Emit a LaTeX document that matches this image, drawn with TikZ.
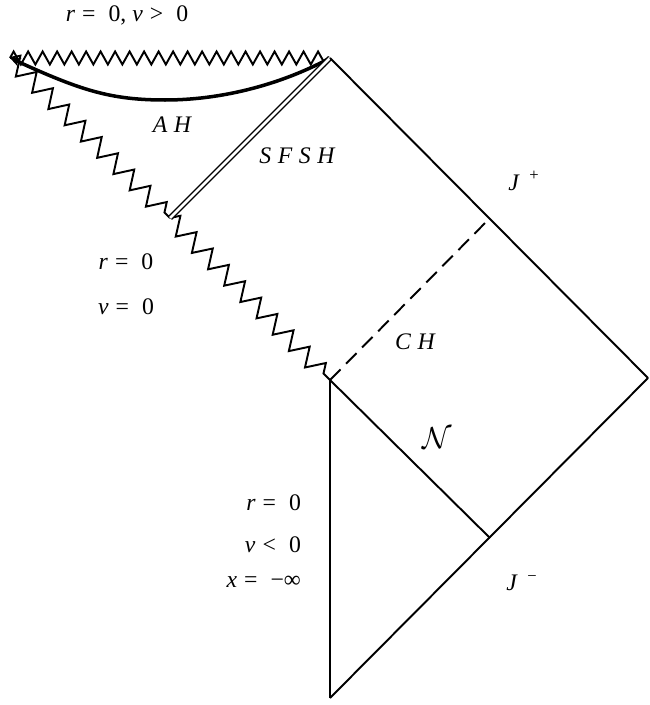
\documentclass[tikz,border=0pt]{standalone}
\usepackage{fontspec}
\setmainfont{Liberation Serif}
\usetikzlibrary{decorations.pathmorphing,arrows.meta}
\newcommand\lsp{\hspace{0.28em}}
\newcommand\rel[1]{\hspace{0.3em}{\upshape#1}\hspace{0.55em}}
\tikzset{
  edge/.style={line width=1.1pt},
  singtop/.style={edge,decorate,decoration={zigzag,segment length=0.29cm,amplitude=0.13cm}},
  singdiag/.style={edge,decorate,decoration={zigzag,segment length=0.46cm,amplitude=0.18cm}},
  horizon/.style={line width=2pt},
  shell/.style={double,double distance=1.5pt,line width=0.8pt},
  cauchy/.style={edge,dash pattern=on 8.5pt off 4.5pt},
  lbl/.style={font=\fontsize{13.5}{16}\selectfont\itshape,inner sep=1pt}
}
\begin{document}
\begin{tikzpicture}[x=0.02cm,y=-0.02cm]
    \useasboundingbox (0,0) rectangle (649,705);
    \coordinate (TL) at (10,58);
    \coordinate (TR) at (330,58);
    \coordinate (R) at (648,378);
    \coordinate (B) at (330,698);
    \coordinate (M) at (330,380);
    \coordinate (SF) at (170,218);
    \coordinate (CHtop) at (490,218);
    \coordinate (Nj) at (490,538);
    \draw[singtop] (TL) to (TR);
    \draw[singdiag] (TL) to (SF);
    \draw[singdiag] (SF) to (M);
    \draw[horizon,{Stealth[length=6pt,width=5pt]}-] (TL) .. controls (80,90) and (110,100) .. (165,100)
        .. controls (230,100) and (290,80) .. (TR);
    \draw[shell] (TR) to (SF);
    \draw[edge] (TR) to (R);
    \draw[edge] (R) to (B);
    \draw[edge] (B) to (M);
    \draw[edge] (M) to (Nj);
    \draw[cauchy] (M) to (CHtop);
    \node[lbl] (rv) at (127,15) {r\rel{=}\upshape 0, \itshape v\rel{>}\upshape 0};
    \node[lbl] (AH) at (172,125) {A\lsp H};
    \node[lbl] (SFSH) at (297,156) {S\lsp F\lsp S\lsp H};
    \node[lbl] (Jp) at (524,181) {J\,\lsp\textsuperscript{\upshape +}};
    \node[lbl] (r0) at (126,262) {r\rel{=}\upshape 0};
    \node[lbl] (v0) at (126,307) {v\rel{=}\upshape 0};
    \node[lbl] (CH) at (415,342) {C\lsp H};
    \node[lbl,font=\fontsize{17}{18}\selectfont] (N) at (437,438) {$\mathcal{N}$};
    \node[lbl,anchor=east] (r1) at (303,503) {r\rel{=}\upshape 0};
    \node[lbl,anchor=east] (v1) at (303,545) {v\rel{<}\upshape 0};
    \node[lbl,anchor=east] (x1) at (303,582) {x\rel{=}\upshape −∞};
    \node[lbl] (Jm) at (522,583) {J\,\lsp\textsuperscript{\upshape −}};
\end{tikzpicture}
\end{document}
